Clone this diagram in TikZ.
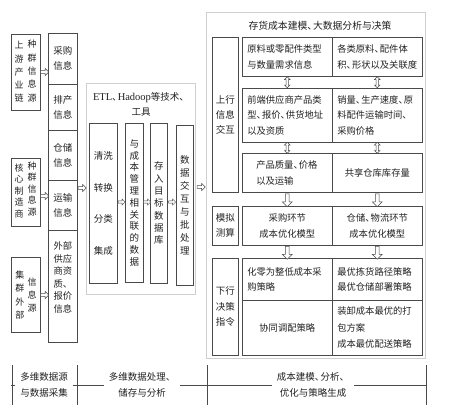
\documentclass[tikz,border=0pt]{standalone}
\usepackage{fontspec}
\setmainfont{Noto Sans CJK SC}
\newfontfamily\latinserif{Liberation Serif}
\usetikzlibrary{shapes.arrows,calc}
\definecolor{boxc}{HTML}{4A4A4A}
\definecolor{lightc}{HTML}{CFCFCF}
\definecolor{txtc}{HTML}{222222}
\newcommand{\dun}{、\hspace{-0.42em}}
\begin{document}
\begin{tikzpicture}[x=1pt,y=-1pt,
  box/.style={draw=boxc, line width=0.6pt, inner sep=0pt, anchor=north west, align=center,
    font=\fontsize{9.5}{15}\selectfont, text=txtc},
  outerbox/.style={draw=lightc, line width=0.9pt, inner sep=0pt, anchor=north west},
  vtxt/.style={inner sep=0pt, align=center, text=txtc, font=\fontsize{9}{13.3}\selectfont},
  cell/.style={box, minimum width=90pt, text width=80pt, inner xsep=5pt, align=left,
    font=\fontsize{9.3}{15.5}\selectfont},
  ccell/.style={cell, align=center},
  harrow/.style={single arrow, draw=boxc, fill=white, line width=0.5pt, minimum height=8pt,
    minimum width=7pt, single arrow head extend=1.5pt, inner sep=0.8pt},
  sarrow/.style={harrow, minimum height=7pt, minimum width=6pt},
  varrow/.style={single arrow, shape border rotate=270, draw=boxc, fill=white, line width=0.5pt,
    minimum height=13pt, minimum width=10pt, single arrow head extend=2pt, inner sep=1pt},
  darrow/.style={double arrow, shape border rotate=90, draw=boxc, fill=white, line width=0.5pt,
    minimum height=11pt, minimum width=5.5pt, double arrow head extend=1.2pt, inner sep=0.5pt},
  legtxt/.style={fill=white, inner xsep=5pt, inner ysep=1pt, align=center, text=txtc,
    font=\fontsize{9.5}{16}\selectfont}
]
\useasboundingbox (0,0) rectangle (450,414);
\fill[white] (0,0) rectangle (450,414);

% ---------- source boxes ----------
\node[box, minimum width=29pt, minimum height=76pt] (src1) at (11,34) {};
\node[vtxt] (src1a) at (19,72) {上\\游\\产\\业\\链};
\node[vtxt] (src1b) at (32,71) {种\\群\\信\\息\\源};

\node[box, minimum width=29pt, minimum height=68pt] (src2) at (11,158) {};
\node[vtxt, font=\fontsize{9}{11.5}\selectfont] (src2a) at (19,191) {核\\心\\制\\造\\商};
\node[vtxt, font=\fontsize{9}{11.5}\selectfont] (src2b) at (32,189) {种\\群\\信\\息\\源};

\node[box, minimum width=29pt, minimum height=75pt] (src3) at (11,257) {};
\node[vtxt] (src3a) at (20,295) {集\\群\\外\\部};
\node[vtxt] (src3b) at (32,295) {信\\息\\源};

% ---------- info column ----------
\node[box, minimum width=29pt, minimum height=51pt] (i1) at (48,33) {采购\\信息};
\node[box, minimum width=29pt, minimum height=46pt] (i2) at (48,84) {排产\\信息};
\node[box, minimum width=29pt, minimum height=50pt] (i3) at (48,130) {仓储\\信息};
\node[box, minimum width=29pt, minimum height=50pt] (i4) at (48,180) {运输\\信息};
\node[box, minimum width=29pt, minimum height=112pt, font=\fontsize{9.3}{12.5}\selectfont] (i5) at (48,230)
  {外部\\供应\\商资\\质、\\报价\\信息\\[6pt]};

\node[harrow] (a1) at (44,72) {};
\node[harrow] (a2) at (44,196) {};
\node[harrow] (a3) at (44,295) {};

% ---------- ETL block ----------
\node[outerbox, minimum width=109pt, minimum height=211pt] (etl) at (86,83) {};
\node[inner sep=0pt, align=center, text=txtc, font=\fontsize{9.5}{15}\selectfont] (etlt) at (141,104.5)
  {{\latinserif\fontsize{10.5}{15}\selectfont ETL}\dun{\latinserif\fontsize{10.5}{15}\selectfont Hadoop}等技术、\\工具};

\node[box, minimum width=28pt, minimum height=160pt, font=\fontsize{9.5}{31.7}\selectfont] (e1) at (89,123)
  {清洗\\转换\\分类\\集成};
\node[box, minimum width=18pt, minimum height=159pt, font=\fontsize{9.5}{11.8}\selectfont] (e2) at (125,123)
  {与\\成\\本\\管\\理\\相\\关\\联\\的\\数\\据};
\node[box, minimum width=17pt, minimum height=160pt, font=\fontsize{9.5}{12.3}\selectfont] (e3) at (150,123)
  {存\\入\\目\\标\\数\\据\\库};
\node[box, minimum width=17pt, minimum height=160pt, font=\fontsize{9.5}{13}\selectfont] (e4) at (176,125)
  {数\\据\\交\\互\\与\\批\\处\\理};

\node[sarrow] (b1) at (121,202) {};
\node[sarrow] (b2) at (146.5,202) {};
\node[sarrow] (b3) at (171.5,202) {};
\node[harrow] (ain) at (81.5,188) {};
\node[harrow] (aout) at (200.5,187) {};

% ---------- right block ----------
\node[outerbox, minimum width=219pt, minimum height=346pt] (rb) at (206,12) {};
\node[inner sep=0pt, text=txtc, font=\fontsize{9.8}{15}\selectfont] (rbt) at (320,26)
  {存货成本建模\dun 大数据分析与决策};

\node[box, minimum width=26pt, minimum height=155pt] (L1) at (212,37) {上行\\信息\\交互};
\node[box, minimum width=26pt, minimum height=39pt] (L2) at (212,206) {模拟\\测算};
\node[box, minimum width=26pt, minimum height=97pt, font=\fontsize{9.5}{15.5}\selectfont] (L3) at (212,258) {下行\\决策\\指令};

\node[cell, minimum height=39pt] (r1l) at (242,37) {原料或零配件类型\\与数量需求信息};
\node[cell, minimum height=39pt] (r1r) at (332,37) {各类原料\dun 配件体\\积\dun 形状以及关联度};
\node[cell, minimum height=54pt] (r2l) at (242,88) {前端供应商产品类\\型\dun 报价\dun 供货地址\\以及资质};
\node[cell, minimum height=54pt] (r2r) at (332,88) {销量\dun 生产速度\dun 原\\料配件运输时间、\\采购价格};
\node[cell, minimum height=39pt, text width=62pt] (r3l) at (242,153) {产品质量\dun 价格\\以及运输};
\node[ccell, minimum height=39pt] (r3r) at (332,153) {共享仓库库存量};
\node[ccell, minimum height=39pt] (r4l) at (242,206) {采购环节\\成本优化模型};
\node[ccell, minimum height=39pt] (r4r) at (332,206) {仓储\dun 物流环节\\成本优化模型};
\node[cell, minimum height=42pt] (r5l) at (242,258) {化零为整低成本采\\购策略};
\node[cell, minimum height=42pt] (r5r) at (332,258) {最优拣货路径策略\\最优仓储部署策略};
\node[ccell, minimum height=55pt] (r6l) at (242,300) {协同调配策略};
\node[cell, minimum height=55pt, font=\fontsize{9.3}{16.5}\selectfont] (r6r) at (332,300) {装卸成本最优的打\\包方案\\成本最优配送策略};

\node[darrow] (d1) at ($(r1l.south)!0.5!(r2l.north)$) {};
\node[darrow] (d2) at ($(r1r.south)!0.5!(r2r.north)$) {};
\node[darrow] (d3) at ($(r2l.south)!0.5!(r3l.north)$) {};
\node[darrow] (d4) at ($(r2r.south)!0.5!(r3r.north)$) {};
\node[varrow] (v1) at ($(r3l.south)!0.5!(r4l.north)$) {};
\node[varrow] (v2) at ($(r3r.south)!0.5!(r4r.north)$) {};
\node[varrow] (v3) at ($(r4l.south)!0.5!(r5l.north)$) {};
\node[varrow] (v4) at ($(r4r.south)!0.5!(r5r.north)$) {};

% ---------- legend ----------
\coordinate (lgL) at (11,385);
\coordinate (lgR) at (426,385);
\draw[boxc, line width=0.6pt] (lgL) -- (lgR);
\foreach \tx in {12,77,207,426} {
  \draw[boxc, line width=0.6pt] (\tx,365) -- (\tx,405);
}
\node[legtxt] (lg1) at (44,385) {多维数据源\\与数据采集};
\node[legtxt] (lg2) at (142,385) {多维数据处理、\\储存与分析};
\node[legtxt] (lg3) at (313,385) {成本建模\dun 分析、\\优化与策略生成};
\end{tikzpicture}
\end{document}
